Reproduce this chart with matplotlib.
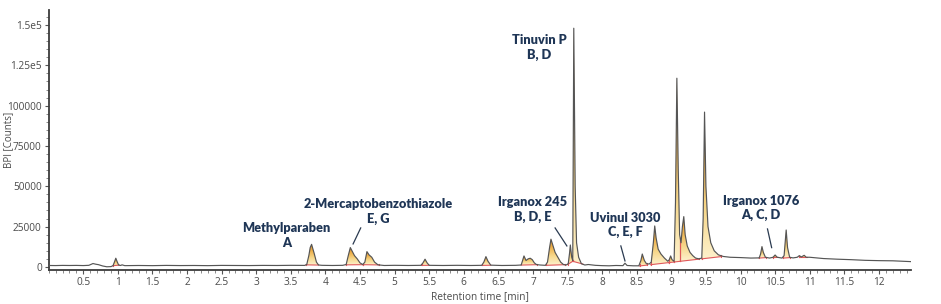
import numpy as np
import matplotlib
matplotlib.use("Agg")
import matplotlib.pyplot as plt
from matplotlib.patches import Polygon
from matplotlib.colors import LinearSegmentedColormap
from matplotlib.ticker import MultipleLocator, FixedLocator, FuncFormatter

# ---------------- data ----------------
trace_t = [0.00, 0.10, 0.20, 0.30, 0.40, 0.50, 0.58, 0.64, 0.68, 0.72, 0.78, 0.84, 0.90,
           0.93, 0.95, 0.97, 0.99, 1.01, 1.04, 1.06, 1.10, 1.30, 1.50, 1.70, 1.90, 2.10,
           2.30, 2.50, 2.70, 2.90, 3.10, 3.30, 3.50, 3.70, 3.73, 3.76, 3.78, 3.80, 3.82,
           3.84, 3.87, 3.90, 3.95, 4.10, 4.25, 4.30, 4.33, 4.36, 4.39, 4.42, 4.46, 4.50,
           4.54, 4.57, 4.60, 4.63, 4.67, 4.71, 4.76, 4.85, 5.00, 5.20, 5.38, 5.41, 5.44,
           5.47, 5.50, 5.70, 5.90, 6.10, 6.26, 6.29, 6.32, 6.35, 6.39, 6.55, 6.75, 6.83,
           6.85, 6.87, 6.90, 6.93, 6.96, 6.99, 7.02, 7.05, 7.10, 7.18, 7.21, 7.24, 7.26,
           7.29, 7.32, 7.36, 7.40, 7.44, 7.48, 7.51, 7.53, 7.54, 7.56, 7.575, 7.59, 7.61,
           7.63, 7.66, 7.70, 7.75, 7.80, 7.90, 8.00, 8.10, 8.20, 8.30, 8.33, 8.36, 8.45,
           8.53, 8.56, 8.58, 8.61, 8.64, 8.68, 8.71, 8.74, 8.76, 8.78, 8.81, 8.85, 8.90,
           8.95, 8.97, 8.99, 9.01, 9.04, 9.06, 9.08, 9.10, 9.12, 9.14, 9.16, 9.18, 9.20,
           9.23, 9.27, 9.31, 9.35, 9.40, 9.44, 9.46, 9.48, 9.50, 9.53, 9.57, 9.62, 9.68,
           9.75, 9.85, 10.00, 10.15, 10.27, 10.29, 10.31, 10.33, 10.36, 10.42, 10.47,
           10.50, 10.53, 10.60, 10.63, 10.66, 10.68, 10.71, 10.76, 10.82, 10.85, 10.88,
           10.92, 10.95, 11.00, 11.20, 11.40, 11.60, 11.80, 12.00, 12.20, 12.46]
trace_y = [900, 850, 950, 900, 950, 850, 1000, 2100, 1700, 1400, 600, 100, 200,
           800, 3000, 5400, 3200, 1200, 900, 1300, 800, 900, 800, 950, 850, 900,
           800, 950, 900, 850, 950, 900, 1000, 950, 1500, 7000, 12000, 14000, 11000,
           8000, 3000, 1200, 1000, 900, 1000, 1500, 7000, 12000, 9500, 7000, 5000, 2500,
           1500, 3000, 9500, 7500, 6000, 3000, 1300, 900, 1000, 900, 1000, 2500, 4800,
           2500, 1000, 900, 1000, 900, 1000, 3000, 6400, 3500, 1100, 900, 1000, 1200,
           4000, 6800, 4000, 5000, 5400, 4500, 2500, 1500, 1200, 1000, 3000, 12000, 17200,
           13000, 9000, 6000, 3000, 1500, 1200, 2000, 9000, 13600, 6000, 4000, 148000, 50000,
           15000, 6000, 2000, 1200, 1500, 1000, 800, 700, 900, 800, 2300, 900, 700,
           700, 4000, 8000, 4000, 2000, 1800, 3000, 15000, 25400, 18000, 11000, 8000, 5500,
           3500, 4500, 6800, 4500, 3500, 40000, 117000, 60000, 20000, 15000, 25000, 31200, 20000,
           13000, 9000, 7000, 5500, 5000, 5500, 30000, 96000, 50000, 25000, 15000, 10000, 7500,
           6500, 6000, 5800, 5500, 5600, 8000, 12600, 9000, 6000, 5500, 6000,
           7400, 6000, 5500, 7000, 22900, 12000, 6000, 5600, 6000, 7000, 6200,
           7200, 6000, 6000, 5200, 4800, 4500, 4100, 3900, 3800, 3300]

# integration windows: start, end, baseline value at start, baseline value at end
win_start = [0.93, 3.72, 4.30, 4.54, 5.39, 6.27, 6.83, 7.19, 7.50, 7.575,
             8.54, 8.70, 8.96, 9.04, 9.13, 9.44, 10.27, 10.47, 10.62, 10.84]
win_end   = [1.02, 3.90, 4.54, 4.77, 5.50, 6.39, 7.06, 7.46, 7.575, 7.72,
             8.65, 8.96, 9.04, 9.13, 9.40, 9.72, 10.37, 10.54, 10.72, 10.96]
win_base0 = [800, 1300, 1300, 1400, 950, 950, 1150, 1000, 1500, 3500,
             600, 1390, 2670, 3060, 3500, 5020, 5500, 5800, 5500, 6000]
win_base1 = [1100, 1150, 1400, 1250, 1000, 1050, 1400, 1400, 3500, 1800,
             1140, 2670, 3060, 3500, 4830, 6400, 5800, 5900, 5800, 6000]

# annotations: label, x, y (text centre) and leader line end points
ann_text = ["Methylparaben\nA", "2-Mercaptobenzothiazole\nE, G", "Tinuvin P\nB, D",
            "Irganox 245\nB, D, E", "Uvinul 3030\nC, E, F", "Irganox 1076\nA, C, D"]
ann_x = [3.44, 4.76, 7.09, 7.00, 8.34, 10.30]
ann_y = [19500, 34400, 136100, 35650, 26040, 36460]
lead_x0 = [None, 4.51, None, 7.32, 8.27, 10.39]
lead_y0 = [None, 24180, None, 24180, 13020, 23560]
lead_x1 = [None, 4.40, None, 7.49, 8.33, 10.45]
lead_y1 = [None, 14260, None, 13020, 3720, 11970]

y_ticks = [0, 25000, 50000, 75000, 100000, 125000, 150000]
y_tick_labels = ["0", "25000", "50000", "75000", "100000", "1.25e5", "1.5e5"]
x_ticks = [0.5, 1, 1.5, 2, 2.5, 3, 3.5, 4, 4.5, 5, 5.5, 6, 6.5, 7, 7.5, 8, 8.5, 9,
           9.5, 10, 10.5, 11, 11.5, 12]

# ---------------- figure ----------------
W, H = 941, 304
fig = plt.figure(figsize=(W / 100, H / 100), dpi=100)
ax = fig.add_axes([48.7 / W, 1 - 270 / H, 862 / W, 260 / H])
XMIN, XMAX, YMIN, YMAX = 0.0, 12.46, -1900, 159300

tt = np.asarray(trace_t, float)
ty = np.asarray(trace_y, float)

cmap = LinearSegmentedColormap.from_list(
    "peak", ["#fdf1cc", "#f7d88c", "#eeb04a", "#d98a28"])

for s, e, b0, b1 in zip(win_start, win_end, win_base0, win_base1):
    td = np.linspace(s, e, 300)
    yd = np.interp(td, tt, ty)
    bd = b0 + (b1 - b0) * (td - s) / (e - s)
    verts = np.vstack([np.column_stack([td, yd]), np.column_stack([td[::-1], bd[::-1]])])
    patch = Polygon(verts, closed=True, facecolor="none", edgecolor="none")
    ax.add_patch(patch)
    lo = min(b0, b1)
    hi = yd.max()
    grad = np.linspace(0, 1, 256).reshape(-1, 1)
    im = ax.imshow(grad, extent=[s, e, lo, hi], origin="lower", aspect="auto",
                   cmap=cmap, zorder=1, interpolation="bilinear")
    im.set_clip_path(patch)
    # red integration baseline and boundary marks
    ax.plot([s, e], [b0, b1], color="#e0585a", lw=0.8, zorder=2)
    ax.plot([s, s], [b0, np.interp(s, tt, ty) + 300], color="#e0585a", lw=0.8, zorder=2)
    ax.plot([e, e], [b1, np.interp(e, tt, ty) + 300], color="#e0585a", lw=0.8, zorder=2)

ax.plot(tt, ty, color="#555555", lw=0.85, zorder=3)

ann_font = dict(family=["Lato", "DejaVu Sans"], weight="heavy", size=9.2, color="#1f3656")
for txt, x, y, x0, y0, x1, y1 in zip(ann_text, ann_x, ann_y, lead_x0, lead_y0, lead_x1, lead_y1):
    ax.text(x, y, txt, ha="center", va="center", linespacing=1.25, zorder=5, **ann_font)
    if x0 is not None:
        ax.plot([x0, x1], [y0, y1], color="#2a3a50", lw=0.9, zorder=4)

ax.set_xlim(XMIN, XMAX)
ax.set_ylim(YMIN, YMAX)

for sp in ["top", "right"]:
    ax.spines[sp].set_visible(False)
for sp in ["left", "bottom"]:
    ax.spines[sp].set_color("#3c3c3c")
    ax.spines[sp].set_linewidth(1.3)

ax.xaxis.set_major_locator(FixedLocator(x_ticks))
ax.xaxis.set_major_formatter(FuncFormatter(lambda v, p: f"{v:g}"))
ax.xaxis.set_minor_locator(MultipleLocator(0.1))
ax.yaxis.set_major_locator(FixedLocator(y_ticks))
ax.set_yticklabels(y_tick_labels)
ax.yaxis.set_minor_locator(MultipleLocator(5000))

tick_font = ["Open Sans", "DejaVu Sans"]
ax.tick_params(axis="both", which="major", length=3, width=0.8, color="#555555",
               labelsize=7.3, labelcolor="#4a4a4a", pad=2)
ax.tick_params(axis="both", which="minor", length=2, width=0.6, color="#777777")
for lab in ax.get_xticklabels() + ax.get_yticklabels():
    lab.set_family(tick_font)

ax.set_xlabel("Retention time [min]", fontsize=7.3, color="#4a4a4a", family=tick_font, labelpad=2)
ax.set_ylabel("BPI [Counts]", fontsize=7.0, color="#4a4a4a", family=tick_font)
ax.yaxis.set_label_coords(-35.0 / 862, 0.5)

fig.savefig("out.png", dpi=100)
